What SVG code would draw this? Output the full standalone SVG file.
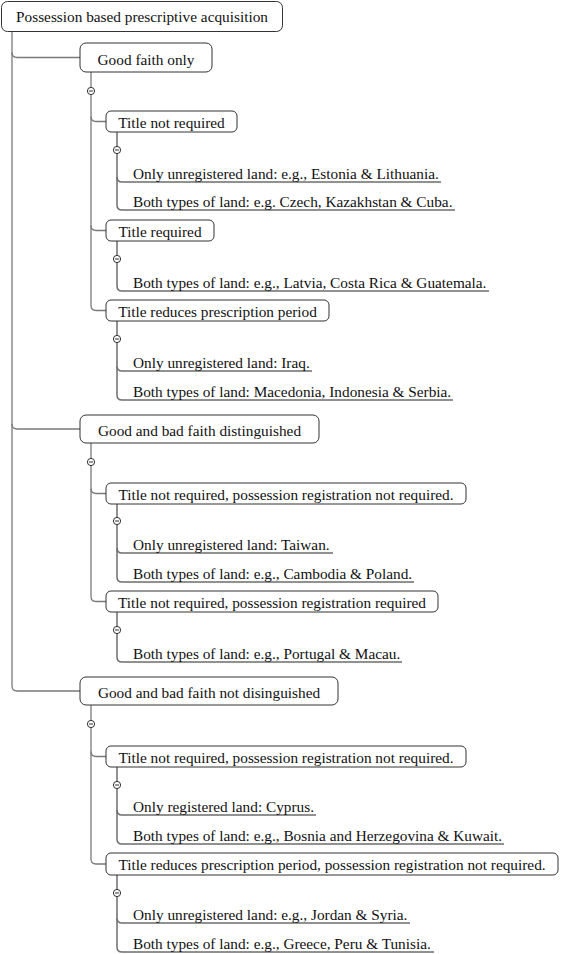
<svg xmlns="http://www.w3.org/2000/svg" width="562" height="954" viewBox="0 0 562 954">
<defs>
<style>
text{font-family:"Liberation Serif","Times New Roman",serif;font-size:15.3px;fill:#111}
.box rect{fill:#fff;stroke:#333;stroke-width:1}
.box text{text-anchor:middle}
.conn path{fill:none;stroke:#7a7a7a;stroke-width:1.3}
.conn path.leaf{stroke:#6e6e6e;stroke-width:1.5}
</style>
<g id="minus"><circle cx="0" cy="0" r="3.6" fill="#fff" stroke="#333" stroke-width="1"/><line x1="-2" y1="0" x2="2" y2="0" stroke="#333" stroke-width="1"/></g>
</defs>
<rect width="562" height="954" fill="#fff"/>
<g id="connectors" class="conn">
<path d="M12,31.5 V686 Q12,691 17,691 H80"/>
<path d="M12,52.5 Q12,57.5 17,57.5 H80"/>
<path d="M12,424 Q12,429 17,429 H80"/>
<path d="M91,72 V305.5 Q91,310.5 96,310.5 H106"/>
<path d="M91,116.5 Q91,121.5 96,121.5 H106"/>
<path d="M91,225.5 Q91,230.5 96,230.5 H106"/>
<path class="leaf" d="M117,132 V205 Q117,210 122,210 H455"/>
<path class="leaf" d="M117,177 Q117,182 122,182 H441"/>
<path class="leaf" d="M117,241 V286 Q117,291 122,291 H489"/>
<path class="leaf" d="M117,321 V395 Q117,400 122,400 H453"/>
<path class="leaf" d="M117,366 Q117,371 122,371 H312"/>
<path d="M91,443 V596.5 Q91,601.5 96,601.5 H106"/>
<path d="M91,488.5 Q91,493.5 96,493.5 H106"/>
<path class="leaf" d="M117,504 V577 Q117,582 122,582 H414"/>
<path class="leaf" d="M117,548 Q117,553 122,553 H333"/>
<path class="leaf" d="M117,612 V657 Q117,662 122,662 H402"/>
<path d="M91,705 V859 Q91,864 96,864 H106"/>
<path d="M91,751.5 Q91,756.5 96,756.5 H106"/>
<path class="leaf" d="M117,767 V839 Q117,844 122,844 H504"/>
<path class="leaf" d="M117,810 Q117,815 122,815 H316"/>
<path class="leaf" d="M117,875 V947 Q117,952 122,952 H434"/>
<path class="leaf" d="M117,918 Q117,923 122,923 H410"/>
</g>
<g id="toggles">
<use href="#minus" x="91" y="91"/>
<use href="#minus" x="117" y="150"/>
<use href="#minus" x="117" y="259"/>
<use href="#minus" x="117" y="339"/>
<use href="#minus" x="91" y="462"/>
<use href="#minus" x="117" y="521"/>
<use href="#minus" x="117" y="630"/>
<use href="#minus" x="91" y="724"/>
<use href="#minus" x="117" y="785"/>
<use href="#minus" x="117" y="893"/>
</g>
<g id="root" class="box"><rect x="1.5" y="1.5" width="281" height="30" rx="6"/><text x="142" y="22">Possession based prescriptive acquisition</text></g>
<g id="good-faith-only" class="box"><rect x="80" y="43" width="132" height="29" rx="6"/><text x="146" y="64.5">Good faith only</text></g>
<g id="gfo-title-not-required" class="box"><rect x="106" y="111" width="131" height="21" rx="5"/><text x="171.5" y="127.5">Title not required</text></g>
<g id="gfo-tnr-leaf1"><text x="133" y="179">Only unregistered land: e.g., Estonia &amp; Lithuania.</text></g>
<g id="gfo-tnr-leaf2"><text x="133" y="207">Both types of land: e.g. Czech, Kazakhstan &amp; Cuba.</text></g>
<g id="gfo-title-required" class="box"><rect x="106" y="220" width="108" height="21" rx="5"/><text x="160" y="236.5">Title required</text></g>
<g id="gfo-tr-leaf1"><text x="133" y="288">Both types of land: e.g., Latvia, Costa Rica &amp; Guatemala.</text></g>
<g id="gfo-title-reduces" class="box"><rect x="106" y="300" width="223" height="21" rx="5"/><text x="217.5" y="316.5">Title reduces prescription period</text></g>
<g id="gfo-trpp-leaf1"><text x="133" y="368">Only unregistered land: Iraq.</text></g>
<g id="gfo-trpp-leaf2"><text x="133" y="397">Both types of land: Macedonia, Indonesia &amp; Serbia.</text></g>
<g id="good-bad-distinguished" class="box"><rect x="80" y="415" width="239" height="28" rx="6"/><text x="199.5" y="436">Good and bad faith distinguished</text></g>
<g id="gbd-tnr-prnr" class="box"><rect x="106" y="483" width="360" height="21" rx="5"/><text x="286" y="499.5">Title not required, possession registration not required.</text></g>
<g id="gbd-tnr-prnr-leaf1"><text x="133" y="550">Only unregistered land: Taiwan.</text></g>
<g id="gbd-tnr-prnr-leaf2"><text x="133" y="579">Both types of land: e.g., Cambodia &amp; Poland.</text></g>
<g id="gbd-tnr-prr" class="box"><rect x="106" y="591" width="332" height="21" rx="5"/><text x="272" y="607.5">Title not required, possession registration required</text></g>
<g id="gbd-tnr-prr-leaf1"><text x="133" y="659">Both types of land: e.g., Portugal &amp; Macau.</text></g>
<g id="good-bad-not-distinguished" class="box"><rect x="80" y="677" width="258" height="28" rx="6"/><text x="209" y="698">Good and bad faith not disinguished</text></g>
<g id="gbnd-tnr-prnr" class="box"><rect x="106" y="746" width="360" height="21" rx="5"/><text x="286" y="762.5">Title not required, possession registration not required.</text></g>
<g id="gbnd-tnr-prnr-leaf1"><text x="133" y="812">Only registered land: Cyprus.</text></g>
<g id="gbnd-tnr-prnr-leaf2"><text x="133" y="841">Both types of land: e.g., Bosnia and Herzegovina &amp; Kuwait.</text></g>
<g id="gbnd-trpp-prnr" class="box"><rect x="106" y="853" width="452" height="22" rx="5"/><text x="332" y="870">Title reduces prescription period, possession registration not required.</text></g>
<g id="gbnd-trpp-prnr-leaf1"><text x="133" y="920">Only unregistered land: e.g., Jordan &amp; Syria.</text></g>
<g id="gbnd-trpp-prnr-leaf2"><text x="133" y="949">Both types of land: e.g., Greece, Peru &amp; Tunisia.</text></g>
</svg>
